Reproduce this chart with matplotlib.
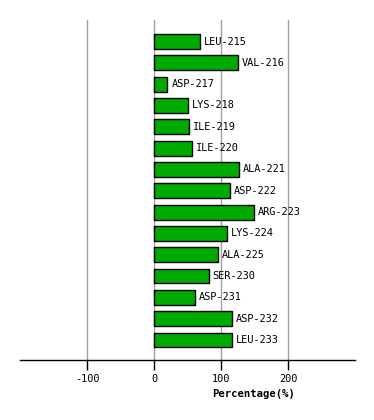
import matplotlib
matplotlib.use("Agg")
import matplotlib.pyplot as plt

residues = ["LEU-215", "VAL-216", "ASP-217", "LYS-218", "ILE-219", "ILE-220", "ALA-221",
            "ASP-222", "ARG-223", "LYS-224", "ALA-225", "SER-230", "ASP-231", "ASP-232", "LEU-233"]
values = [68, 125, 20, 50, 51.5, 56.5, 127, 113, 149, 108.5, 95, 81.5, 60.5, 116, 116]
xticks = [-100, 0, 100, 200]

W, H = 374, 420
fig = plt.figure(figsize=(W/100, H/100), dpi=100)
ax = fig.add_axes([20/W, (H-360)/H, (355-20)/W, (360-20)/H])

ypos = list(range(len(residues)))
ax.barh(ypos, values, height=0.7, color="#00aa00", edgecolor="black", linewidth=1, zorder=3)
for y, v, lab in zip(ypos, values, residues):
    ax.text(v + 6, y, lab, va="center", ha="left", family="DejaVu Sans Mono", fontsize=7.4, zorder=4)

ax.set_xlim(-200, 300)
ax.set_ylim(14.94, -1.01)
ax.set_xticks(xticks)
ax.set_xticklabels([str(t) for t in xticks], family="DejaVu Sans Mono", fontsize=7.4)
ax.set_yticks([])
for t in xticks:
    ax.axvline(t, color="#a0a0a0", linewidth=1, zorder=1)
for s in ["top", "right", "left"]:
    ax.spines[s].set_visible(False)
ax.spines["bottom"].set_linewidth(1)
ax.tick_params(axis="x", length=7, width=1, pad=3)
fig.text(254/W, 1 - 394/H, "Percentage(%)", ha="center", va="center",
         family="DejaVu Sans Mono", fontweight="bold", fontsize=7.6)
fig.savefig("out.png", dpi=100)
